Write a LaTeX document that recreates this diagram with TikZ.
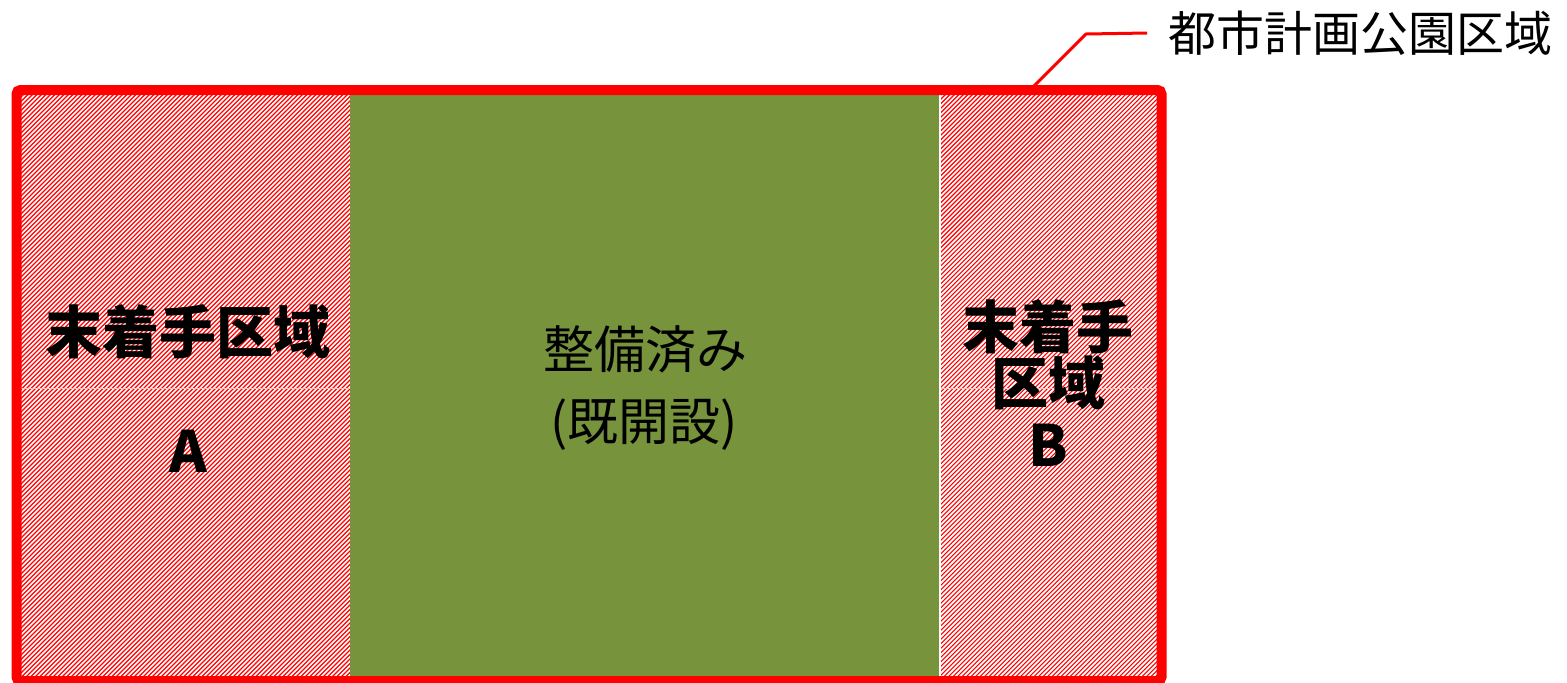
\documentclass[tikz,border=0pt]{standalone}
\usepackage{fontspec}
\newfontfamily\cjk{Noto Sans CJK JP}
\definecolor{parkgreen}{HTML}{77933C}
\definecolor{faintline}{RGB}{255,200,200}
\definecolor{hatchred}{RGB}{255,0,0}
\tikzset{
  hatchline/.style={hatchred, line width=0.55pt},
  boldlbl/.style={font=\cjk\bfseries\fontsize{28.5pt}{30pt}\selectfont, inner sep=0pt, align=center},
  midlbl/.style={font=\cjk\fontsize{25.5pt}{27pt}\selectfont, inner sep=0pt, align=center},
  toplbl/.style={font=\cjk\fontsize{24pt}{26pt}\selectfont, inner sep=0pt, anchor=west},
  frame/.style={red, line width=5pt, rounded corners=2pt},
  leader/.style={red, line width=1.5pt}
}
\begin{document}
\begin{tikzpicture}[x=0.5pt, y=-0.5pt]
\useasboundingbox (0,0) rectangle (1567,682);
% left hatched area A
\begin{scope}
  \clip (16,90) rectangle (350,682);
  \fill[white] (16,90) rectangle (350,682);
  \foreach \i in {-600,-595.5,...,356} {
    \draw[hatchline] (\i,682) -- (\i+592,90);
  }
\end{scope}
% middle green area
\fill[parkgreen] (350,90) rectangle (939,682);
% right hatched area B
\begin{scope}
  \clip (941,90) rectangle (1162,682);
  \foreach \i in {340,344.5,...,1166} {
    \draw[hatchline] (\i,682) -- (\i+592,90);
  }
\end{scope}
% faint horizontal cell lines
\draw[faintline, line width=0.5pt] (21,388) -- (350,388);
\draw[faintline, line width=0.5pt] (941,388) -- (1157,388);
% frame
\draw[frame] (16.5,90) rectangle (1161.5,681);
\coordinate (fr) at (1034,86);
% labels
\node[boldlbl] (la1) at (188,332) {末着手区域};
\node[boldlbl] (la2) at (188,451) {A};
\node[midlbl] (m1) at (645,349) {整備済み};
\node[midlbl] (m2) at (644,425) {(既開設)};
\node[boldlbl] (rb1) at (1048,327) {末着手};
\node[boldlbl] (rb2) at (1048,383) {区域};
\node[boldlbl] (rb3) at (1048,445) {B};
\node[toplbl] (lbl) at (1168,33) {都市計画公園区域};
\coordinate (bend) at (1086,34);
\draw[leader] (fr) -- (bend) -- ([xshift=-10.5pt]lbl.west);
\end{tikzpicture}
\end{document}
